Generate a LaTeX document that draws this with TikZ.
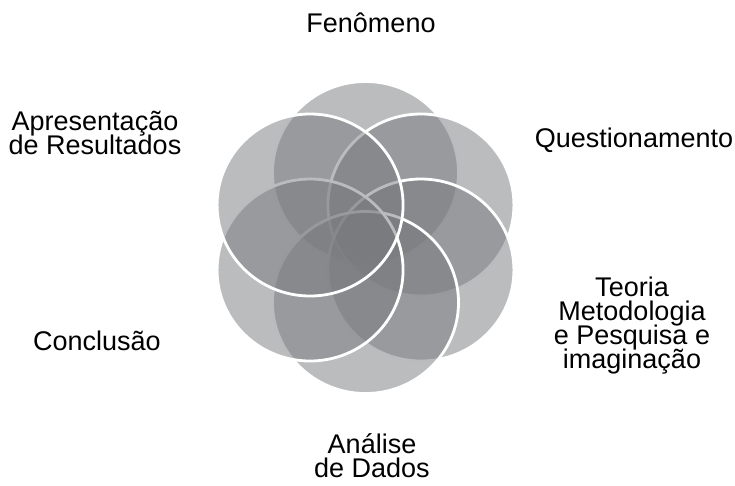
\documentclass[tikz,border=0pt]{standalone}
\usepackage{fontspec}
\setmainfont{Liberation Sans}
\definecolor{petalgray}{RGB}{119,121,125}
\newcommand{\stagefont}{\fontsize{27}{24}\selectfont\lineskiplimit-30pt\relax}
\tikzset{
	petal/.style={fill=petalgray, fill opacity=0.5, draw=white, draw opacity=1, line width=2.8pt},
	stagetext/.style={font=\stagefont, align=center, inner sep=0pt, anchor=base}
}
\begin{document}
\begin{tikzpicture}[x=1pt,y=-1pt]
	\useasboundingbox (0,0) rectangle (735,485);
	\foreach \ang in {90,30,-30,-90,-150,150}
		\draw[petal] ({365.5+64*cos(\ang)},{237.5-65*sin(\ang)}) ellipse [x radius=93, y radius=91];
	\node[stagetext] (fenomeno) at (371,32) {Fenômeno};
	\node[stagetext] (questionamento) at (634,147) {Questionamento};
	\node[stagetext] (teoria) at (632,368) {Teoria\\Metodologia\\e Pesquisa e\\imaginação};
	\node[stagetext] (analise) at (372,477) {Análise\\de Dados};
	\node[stagetext] (conclusao) at (97,350) {Conclusão};
	\node[stagetext] (apresentacao) at (95,154) {Apresentação\\de Resultados};
\end{tikzpicture}
\end{document}
